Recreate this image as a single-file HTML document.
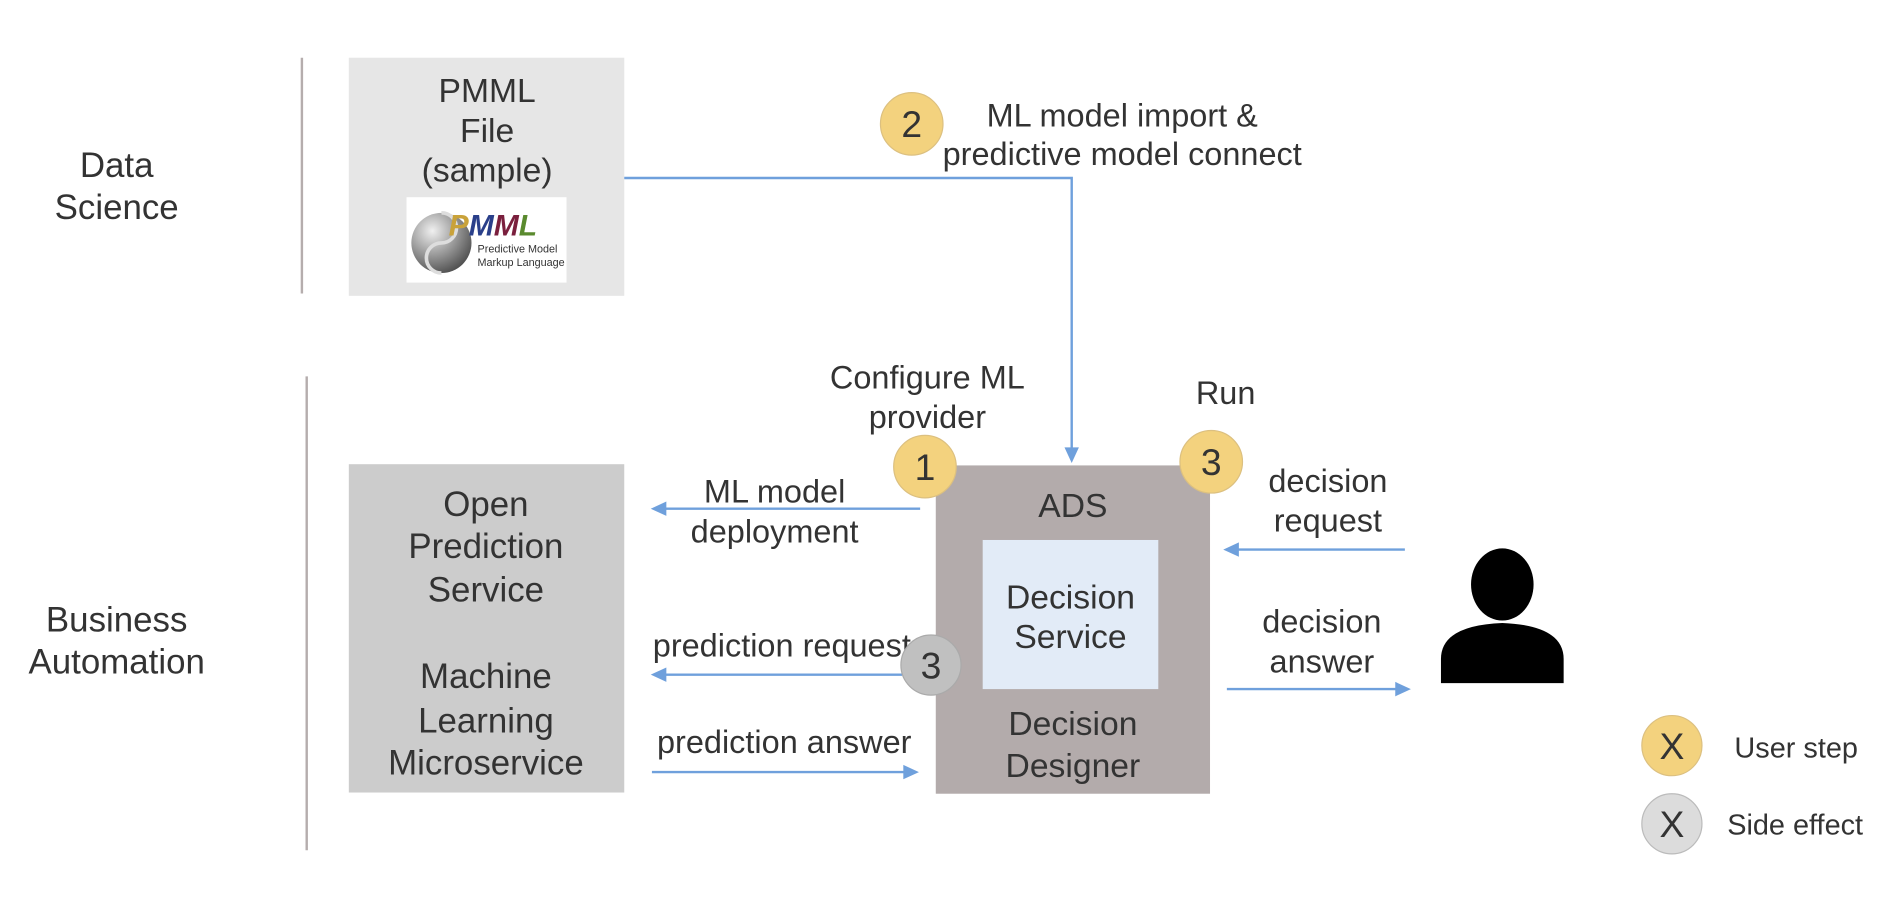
<!DOCTYPE html>
<html><head><meta charset="utf-8"><style>
html,body{margin:0;padding:0;background:#fff;}
svg{display:block;}
text{font-family:"Liberation Sans",sans-serif;fill:#333;}
</style></head><body>
<svg width="1886" height="920" viewBox="0 0 1568 765" preserveAspectRatio="none">
<defs>
<radialGradient id="g" cx="0.35" cy="0.3" r="0.8"><stop offset="0" stop-color="#f0f0f0"/><stop offset="1" stop-color="#444"/></radialGradient>
</defs>
<line x1="251" y1="48" x2="251" y2="244" stroke="#b5adad" stroke-width="2"/>
<line x1="255" y1="313" x2="255" y2="707" stroke="#b5adad" stroke-width="2"/>
<g font-size="29" text-anchor="middle">
<text x="97" y="147">Data</text><text x="97" y="182">Science</text>
<text x="97" y="525">Business</text><text x="97" y="560">Automation</text>
</g>
<rect x="290" y="48" width="229" height="198" fill="#e6e6e6"/>
<g font-size="28" text-anchor="middle">
<text x="405" y="85">PMML</text><text x="405" y="118">File</text><text x="405" y="151">(sample)</text>
</g>
<rect x="338" y="164" width="133" height="71" fill="#fff"/>
<circle cx="367" cy="202" r="25" fill="url(#g)"/>
<path d="M367 177 a12.5 12.5 0 0 1 0 25 a12.5 12.5 0 0 0 0 25" fill="none" stroke="#ddd" stroke-width="3"/>
<text x="373" y="196" font-size="25" font-weight="bold" font-style="italic"><tspan fill="#c9a23a">P</tspan><tspan fill="#2a3f8a">M</tspan><tspan fill="#7a1f3d">M</tspan><tspan fill="#5a8a2e">L</tspan></text>
<text x="397" y="210" font-size="9">Predictive Model</text>
<text x="397" y="221" font-size="9">Markup Language</text>
<g stroke="#6fa0dc" stroke-width="2" fill="none">
<polyline points="519,148 891,148 891,376"/>
<line x1="765" y1="423" x2="550" y2="423"/>
<line x1="750" y1="561" x2="550" y2="561"/>
<line x1="542" y1="642" x2="755" y2="642"/>
<line x1="1168" y1="457" x2="1026" y2="457"/>
<line x1="1020" y1="573" x2="1164" y2="573"/>
</g>
<g fill="#6fa0dc">
<polygon points="885,372 897,372 891,385"/>
<polygon points="541,423 554,417 554,429"/>
<polygon points="541,561 554,555 554,567"/>
<polygon points="764,642 751,636 751,648"/>
<polygon points="1017,457 1030,451 1030,463"/>
<polygon points="1173,573 1160,567 1160,579"/>
</g>
<rect x="290" y="386" width="229" height="273" fill="#cccccc"/>
<g font-size="29" text-anchor="middle">
<text x="404" y="429">Open</text><text x="404" y="464">Prediction</text><text x="404" y="500">Service</text>
<text x="404" y="572">Machine</text><text x="404" y="609">Learning</text><text x="404" y="644">Microservice</text>
</g>
<rect x="778" y="387" width="228" height="273" fill="#b3abab"/>
<rect x="817" y="449" width="146" height="124" fill="#e2ebf7"/>
<g font-size="28" text-anchor="middle">
<text x="892" y="430">ADS</text>
<text x="890" y="506">Decision</text><text x="890" y="539">Service</text>
<text x="892" y="611">Decision</text><text x="892" y="646">Designer</text>
</g>
<g font-size="27" text-anchor="middle">
<text x="933" y="105">ML model import &amp;</text><text x="933" y="137">predictive model connect</text>
<text x="771" y="323">Configure ML</text><text x="771" y="356">provider</text>
<text x="1019" y="336">Run</text>
<text x="644" y="418">ML model</text><text x="644" y="451">deployment</text>
<text x="650" y="546">prediction request</text>
<text x="652" y="626">prediction answer</text>
<text x="1104" y="409">decision</text><text x="1104" y="442">request</text>
<text x="1099" y="526">decision</text><text x="1099" y="559">answer</text>
</g>
<g stroke-width="1">
<circle cx="758" cy="103" r="26" fill="#f3d27e" stroke="#dcc080"/>
<circle cx="769" cy="388" r="26" fill="#f3d27e" stroke="#dcc080"/>
<circle cx="1007" cy="384" r="26" fill="#f3d27e" stroke="#dcc080"/>
<circle cx="774" cy="553" r="25" fill="#c0c0c0" stroke="#aaa"/>
<circle cx="1390" cy="620" r="25" fill="#f3d27e" stroke="#dcc080"/>
<circle cx="1390" cy="685" r="25" fill="#dcdcdc" stroke="#bbb"/>
</g>
<g font-size="31" text-anchor="middle">
<text x="758" y="114">2</text><text x="769" y="399">1</text><text x="1007" y="395">3</text><text x="774" y="564">3</text>
<text x="1390" y="631">X</text><text x="1390" y="696">X</text>
</g>
<text x="1442" y="630" font-size="24">User step</text>
<text x="1436" y="694" font-size="24">Side effect</text>
<ellipse cx="1249" cy="486" rx="26" ry="30" fill="#000"/>
<path d="M1198 568 L1198 548 Q1198 520 1249 518 Q1300 520 1300 548 L1300 568 Z" fill="#000"/>
</svg>
</body></html>
